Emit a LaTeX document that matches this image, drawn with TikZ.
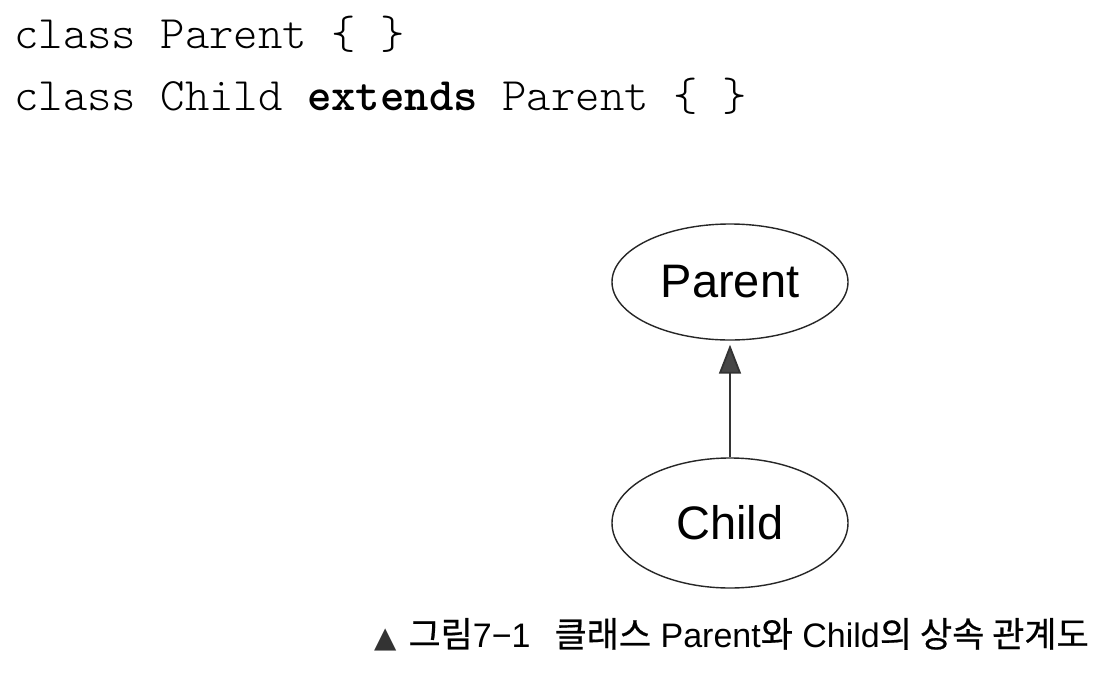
\documentclass[tikz,border=0pt]{standalone}
\usepackage{fontspec}
\setmainfont{Liberation Sans}
\newfontfamily\codefont{lmmonolt10-regular}[Extension=.otf,BoldFont=lmmonolt10-bold]
\newfontfamily\krfont{Noto Sans CJK KR}[FakeBold=0.6]
\newfontfamily\symfont{DejaVu Sans}
\usetikzlibrary{arrows.meta,shapes.geometric}
\begin{document}
\begin{tikzpicture}[x=1pt,y=-1pt,
  codeline/.style={anchor=base west,inner sep=0pt,font=\codefont\fontsize{46.5}{46.5}\selectfont},
  classnode/.style={draw=black!85,line width=1.4pt,ellipse,minimum width=236pt,inner sep=0pt,font=\fontsize{47}{47}\selectfont},
  inherit/.style={line width=1.8pt,draw=black!80,shorten >=4pt,-{Triangle[length=29pt,width=22pt,fill=black!72]}},
  captiontext/.style={anchor=base east,inner sep=0pt,font=\fontsize{34}{34}\selectfont}
]
\path[fill=white] (0,0) rectangle (1120,678);
\useasboundingbox (0,0) rectangle (1120,678);
\node[codeline] (l1) at (14,48) {class Parent \{ \}};
\node[codeline] (l2) at (14,110) {class Child {\bfseries extends} Parent \{ \}};
\node[classnode,minimum height=116pt] (parent) at (730,282) {Parent};
\node[classnode,minimum height=130pt] (child) at (730,523) {Child};
\draw[inherit] (child.north) -- (parent.south);
\node[captiontext] (cap) at (1089,647) {{\symfont\fontsize{29}{29}\selectfont\color{black!80}▲}\hspace{12pt}{\krfont\fontsize{35}{35}\selectfont 그림}7−1\hspace{24pt}{\krfont\fontsize{35}{35}\selectfont 클래스} Parent{\krfont\fontsize{35}{35}\selectfont 와} Child{\krfont\fontsize{35}{35}\selectfont 의 상속 관계도}};
\end{tikzpicture}
\end{document}
